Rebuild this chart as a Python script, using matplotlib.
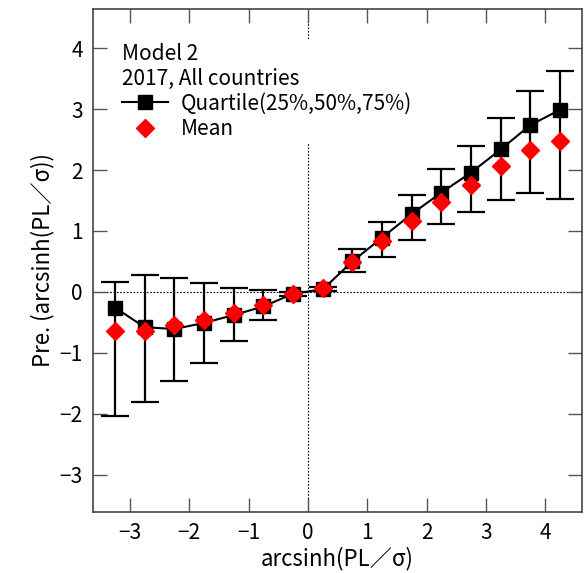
import numpy as np
import matplotlib.pyplot as plt
from matplotlib.lines import Line2D

plt.rcParams['font.family'] = ['Noto Sans CJK JP', 'DejaVu Sans']

# bin centres
x = [-3.25, -2.75, -2.25, -1.75, -1.25, -0.75, -0.25, 0.25,
     0.75, 1.25, 1.75, 2.25, 2.75, 3.25, 3.75, 4.25]
# quartiles of prediction
q50 = [-0.26, -0.58, -0.61, -0.51, -0.38, -0.24, -0.03, 0.04,
       0.50, 0.89, 1.28, 1.63, 1.96, 2.34, 2.74, 2.99]
q25 = [-2.04, -1.81, -1.47, -1.17, -0.81, -0.47, -0.06, 0.01,
       0.33, 0.58, 0.85, 1.12, 1.31, 1.51, 1.62, 1.53]
q75 = [0.16, 0.27, 0.23, 0.14, 0.07, 0.03, 0.0, 0.08,
       0.70, 1.14, 1.59, 2.01, 2.40, 2.86, 3.30, 3.63]
mean = [-0.65, -0.64, -0.55, -0.47, -0.35, -0.21, -0.03, 0.07,
        0.49, 0.84, 1.17, 1.48, 1.76, 2.07, 2.33, 2.47]

x = np.array(x)
q50 = np.array(q50)
err = [q50 - np.array(q25), np.array(q75) - q50]

fig = plt.figure(figsize=(5.87, 5.73), dpi=100)
ax = fig.add_axes([0.1576, 0.1059, 0.8339, 0.8789])

ax.axhline(0, color='black', lw=0.8, ls=(0, (1.5, 1.5)), zorder=1)
ax.axvline(0, color='black', lw=0.8, ls=(0, (1.5, 1.5)), zorder=1)

ax.errorbar(x, q50, yerr=err, fmt='none', ecolor='black', elinewidth=1.6,
            capsize=10, capthick=1.6, zorder=2)
ax.plot(x, q50, color='black', lw=1.5, marker='s', markersize=10, zorder=3)
ax.plot(x, mean, ls='none', marker='D', markersize=9.5, color='red',
        markeredgecolor='red', zorder=4)

ax.set_xlim(-3.63, 4.62)
ax.set_ylim(-3.62, 4.65)
ax.set_xticks(range(-3, 5))
ax.set_yticks(range(-3, 5))
ax.set_xticklabels(['−3', '−2', '−1', '0', '1', '2', '3', '4'])
ax.set_yticklabels(['−3', '−2', '−1', '0', '1', '2', '3', '4'])
ax.tick_params(direction='in', length=10, width=1, color='#555555',
               top=True, right=True, labelsize=15, pad=7)
for s in ax.spines.values():
    s.set_color('#444444')
    s.set_linewidth(1.2)

ax.set_xlabel('arcsinh(PL／σ)', fontsize=16, labelpad=2)
ax.set_ylabel('Pre. (arcsinh(PL／σ))', fontsize=16, labelpad=4)

handles = [Line2D([], [], color='black', lw=1.5, marker='s', markersize=10),
           Line2D([], [], ls='none', marker='D', markersize=9.5, color='red')]
leg = ax.legend(handles, ['Quartile(25%,50%,75%)', 'Mean'],
                title='Model 2\n2017, All countries', loc='upper left',
                bbox_to_anchor=(0.052, 0.94), fontsize=15, title_fontsize=15,
                frameon=True, facecolor='white', edgecolor='none', framealpha=1,
                handlelength=2.2, handletextpad=0.6, labelspacing=0.15,
                borderpad=0.2, borderaxespad=0)
leg._legend_box.align = 'left'
leg.get_title().set_linespacing(1.15)
leg.set_zorder(5)

fig.savefig('out.png', dpi=100)
